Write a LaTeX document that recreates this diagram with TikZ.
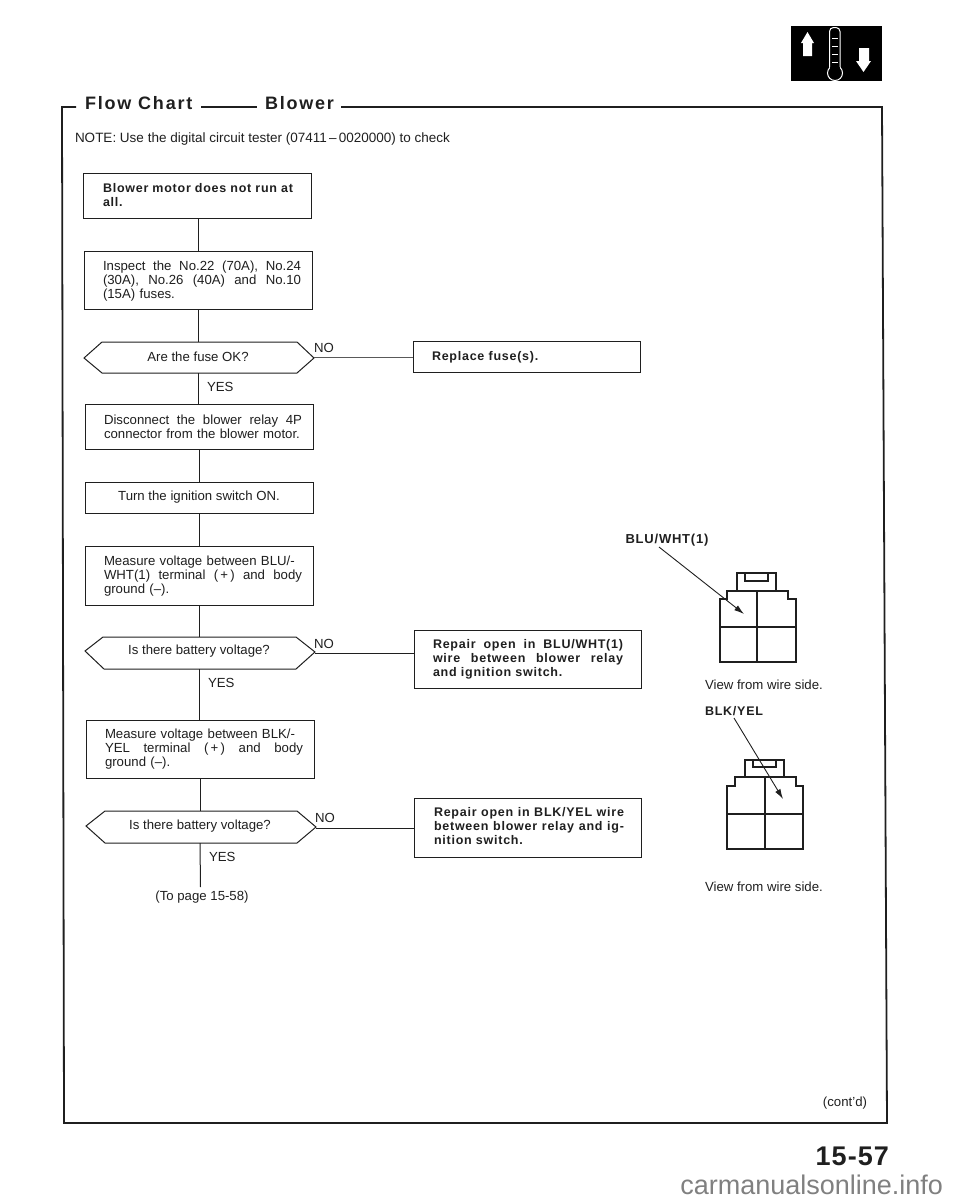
\documentclass[tikz,border=0pt]{standalone}
\usepackage{fontspec}
\setmainfont{Liberation Sans}
\usetikzlibrary{arrows.meta}
\newfontfamily\titlefont[LetterSpace=10]{Liberation Sans Bold}
\newfontfamily\boxbold[LetterSpace=6]{Liberation Sans Bold}
\newfontfamily\pagefont[LetterSpace=4]{Liberation Sans Bold}
\newcommand{\fl}[2][198pt]{\leavevmode\hbox to #1{\spaceskip=.25em plus 1fil\relax #2}}
\definecolor{ink}{gray}{0.12}
\definecolor{thinink}{gray}{0.35}
\tikzset{
  x=1pt,y=-1pt,
  every node/.style={text=ink,inner sep=0pt,outer sep=0pt},
  line/.style={draw=ink,line width=1pt},
  frameline/.style={draw=ink,line width=1.8pt},
  stepbox/.style={draw=ink,line width=1pt,minimum width=228pt,anchor=north west,fill=white},
  body/.style={font=\fontsize{13.2}{14}\selectfont,text width=198pt,align=left,anchor=west},
  boldbody/.style={font=\boxbold\fontsize{12.5}{14}\selectfont,text width=198pt,align=left,anchor=west},
  decide/.style={draw=ink,line width=1pt,fill=white},
  small/.style={font=\fontsize{13.2}{14}\selectfont},
  title/.style={font=\titlefont\fontsize{18}{20}\selectfont,anchor=base west},
  pin/.style={draw=ink,line width=1.8pt,line join=miter},
  pingrid/.style={draw=ink,line width=1.1pt},
  lead/.style={draw=ink,line width=0.9pt,-{Latex[length=10pt,width=6pt]}}
}
\begin{document}
\begin{tikzpicture}
\useasboundingbox (0,0) rectangle (960,1200);
% icon
\fill[black] (791,26) rectangle (882,81);
\fill[white] (803,56) -- (803,43) -- (801,43) -- (807.5,32) -- (814,43) -- (812,43) -- (812,56) -- cycle;
\fill[white] (859,48) -- (859,61) -- (856,61) -- (863.5,72) -- (871,61) -- (869,61) -- (869,48) -- cycle;
\draw[white,line width=1pt] (835,73) circle[radius=7.5];
\fill[black] (830,62) rectangle (840,69);
\draw[white,line width=1pt,rounded corners=4pt] (829.5,67) -- (829.5,27.5) -- (840,27.5) -- (840,67);
\foreach \yy in {38,46,54,62} \draw[white,line width=.5pt] (832,\yy) -- (838,\yy);
% frame
\node[title] (t1) at (85,109) {Flow Chart};
\node[title] (t2) at (265,109) {Blower};
\coordinate (fa) at (64,1123);
\coordinate (fb) at (887,1123);
\coordinate (fc) at (882,107);
\coordinate (fd) at (62,107);
\draw[frameline] (t2.east |- fc) ++(7,0) -- (fc) -- (fb) -- (fa) -- (fd) -- (76,107);
\draw[frameline] (201,107) -- (257,107);
% note
\node[anchor=base west,font=\fontsize{13.5}{14}\selectfont] (note) at (75,142) {NOTE: Use the digital circuit tester (07411\,--\,0020000) to check};
% boxes
\node[stepbox,minimum height=45pt] (b1) at (83.5,173) {};
\node[boldbody] at (103,195.5) {\fl[190pt]{Blower motor does not run at}\\all.};
\node[stepbox,minimum height=58pt] (b2) at (84,251) {};
\node[body] at (103,281) {\fl{Inspect the No.22 (70A), No.24}\\\fl{(30A), No.26 (40A) and No.10}\\(15A) fuses.};
\draw[decide] (84,358) -- (102,342) -- (297,342) -- (314,358) -- (297,373) -- (102,373) -- cycle;
\coordinate (d1t) at (198,342); \coordinate (d1b) at (198,373); \coordinate (d1r) at (314,357);
\node[small] at (198,356.5) {Are the fuse OK?};
\node[stepbox,minimum width=227pt,minimum height=31pt] (r1) at (413,341) {};
\node[boldbody] at (432,357) {Replace fuse(s).};
\node[stepbox,minimum height=45pt] (b3) at (85,404) {};
\node[body] at (104,426.5) {\fl{Disconnect the blower relay 4P}\\connector from the blower motor.};
\node[stepbox,minimum height=31pt] (b4) at (85,482) {};
\node[small] at (199,497.5) {Turn the ignition switch ON.};
\node[stepbox,minimum height=59pt] (b5) at (85.5,546) {};
\node[body] at (104,576) {Measure voltage between BLU/-\\\fl{WHT(1) terminal (\,+\,) and body}\\ground (--).};
\draw[decide] (85,651) -- (103,637) -- (296,637) -- (315,652) -- (296,669) -- (104,669) -- cycle;
\coordinate (d2t) at (199,637); \coordinate (d2b) at (199,669); \coordinate (d2r) at (315,653);
\node[small] at (199,651) {Is there battery voltage?};
\node[stepbox,minimum width=227pt,minimum height=58pt] (r2) at (414,630) {};
\node[boldbody] at (433,659) {\fl[190pt]{Repair open in BLU/WHT(1)}\\\fl[190pt]{wire between blower relay}\\and ignition switch.};
\node[stepbox,minimum height=58pt] (b6) at (86,720) {};
\node[body] at (105,749) {Measure voltage between BLK/-\\\fl{YEL terminal (\,+\,) and body}\\ground (--).};
\draw[decide] (86,826) -- (105,811) -- (297,811) -- (316,827) -- (297,843) -- (105,843) -- cycle;
\coordinate (d3t) at (200,811); \coordinate (d3b) at (200,843); \coordinate (d3r) at (316,828);
\node[small] at (200,826) {Is there battery voltage?};
\node[stepbox,minimum width=227pt,minimum height=59pt] (r3) at (414.5,798) {};
\node[boldbody] at (434,826.5) {\fl[190pt]{Repair open in BLK/YEL wire}\\\fl[190pt]{between blower relay and ig-}\\nition switch.};
\coordinate (end) at (200.5,887);
% connectors
\draw[line] (b1.south -| d1t) -- (b2.north -| d1t);
\draw[line] (b2.south -| d1t) -- (d1t);
\draw[line] (d1b) -- (b3.north -| d1b);
\draw[line] (b3.south) -- (b4.north);
\draw[line] (b4.south) -- (b5.north -| b4.south);
\draw[line] (b5.south -| d2t) -- (d2t);
\draw[line] (d2b) -- (b6.north -| d2b);
\draw[line] (b6.south -| d3t) -- (d3t);
\draw[line] (d3b) -- (end);
\draw[draw=thinink,line width=.8pt] (d1r) -- (r1.west |- d1r);
\draw[line] (d2r) -- (r2.west |- d2r);
\draw[line] (d3r) -- (r3.west |- d3r);
% labels
\node[small] at (324,348) {NO};
\node[small,anchor=west] at (207,387) {YES};
\node[small] at (324,644) {NO};
\node[small,anchor=west] at (208,683) {YES};
\node[small] at (325,818) {NO};
\node[small,anchor=west] at (209,857) {YES};
\node[small] at (202,897) {(To page 15-58)};
% first connector
\draw[pin] (737,591) -- (737,573) -- (776,573) -- (776,591);
\draw[pingrid] (745,573) -- (745,581) -- (768,581) -- (768,573);
\draw[pin] (727,591) -- (788,591) -- (788,599) -- (796,599) -- (796,662) -- (720,662) -- (720,599) -- (727,599) -- cycle;
\draw[pingrid] (757,591) -- (757,662);
\draw[pingrid] (720,627) -- (796,627);
\node[font=\boxbold\fontsize{13}{14}\selectfont] (lab1) at (667,540) {BLU/WHT(1)};
\coordinate (s1) at (659,547);
\coordinate (c1) at (744,614);
\draw[lead] (s1) -- (c1);
\node[small,anchor=west] at (705,685) {View from wire side.};
% second connector
\draw[pin] (745,777) -- (745,760) -- (784,760) -- (784,777);
\draw[pingrid] (753,760) -- (753,767) -- (776,767) -- (776,760);
\draw[pin] (735,777) -- (796,777) -- (796,786) -- (803,786) -- (803,849) -- (727,849) -- (727,786) -- (735,786) -- cycle;
\draw[pingrid] (765,777) -- (765,849);
\draw[pingrid] (727,814) -- (803,814);
\node[font=\boxbold\fontsize{12.5}{14}\selectfont,anchor=west] (lab2) at (705,711) {BLK/YEL};
\coordinate (s2) at (734,718);
\coordinate (c2) at (783,799);
\draw[lead] (s2) -- (c2);
\node[small,anchor=west] at (705,887) {View from wire side.};
% footer
\node[small,anchor=east] at (867,1103) {(cont'd)};
\node[font=\pagefont\fontsize{27}{30}\selectfont,anchor=east] at (889,1156) {15-57};
\node[font=\fontsize{27}{30}\selectfont,text=black!50,anchor=east] at (943,1185) {carmanualsonline.info};
\end{tikzpicture}
\end{document}
